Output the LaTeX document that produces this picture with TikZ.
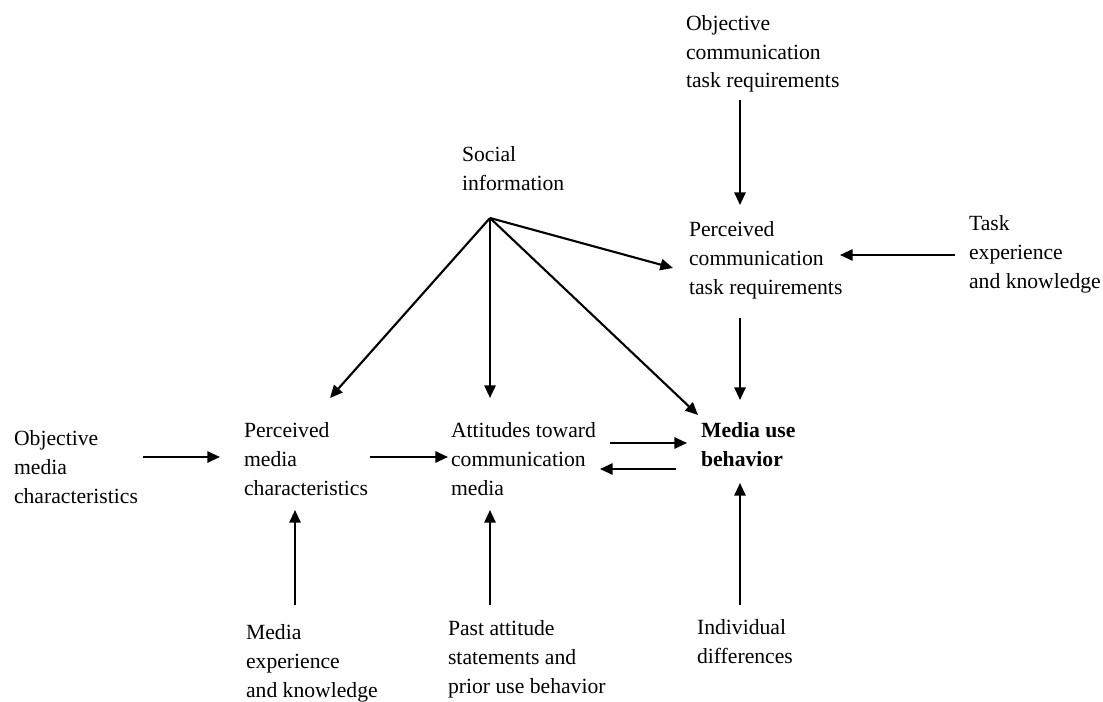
\documentclass[tikz,border=0pt]{standalone}
\usepackage{fontspec}
\setmainfont{Liberation Serif}
\usetikzlibrary{arrows.meta}
\tikzset{lbl/.style={anchor=base west,align=left,inner sep=0pt,font=\fontsize{15.4}{20.6}\selectfont}}

\begin{document}
\begin{tikzpicture}[->,line width=1.5pt,>={Triangle[length=9pt,width=8pt]},x=0.025cm,y=-0.025cm]
 		\useasboundingbox (0,0) rectangle (1103,702);
 		% text blocks (placed at the baseline of their last line)
 		\node[lbl] (octr) at (685,88){Objective\\communication\\task requirements};
 		\node[lbl] (soc) at (461,190){Social\\information};
 		\node[lbl] (pctr) at (688,294){Perceived\\communication\\task requirements};
 		\node[lbl] (tek) at (968,288){Task\\experience\\and knowledge};
 		\node[lbl] (omc) at (13,503){Objective\\media\\characteristics};
 		\node[lbl] (pmc) at (243,495){Perceived\\media\\characteristics};
 		\node[lbl] (atc) at (450,495){Attitudes toward\\communication\\media};
 		\node[lbl,font=\fontsize{15.4}{20.6}\selectfont\bfseries] (mub) at (700,466){Media use\\behavior};
 		\node[lbl] (mek) at (245,697){Media\\experience\\and knowledge};
 		\node[lbl] (pas) at (447,693){Past attitude\\statements and\\prior use behavior};
 		\node[lbl] (ind) at (696,663){Individual\\differences};
 		% arrow ends
 		\coordinate (octr-out) at (740,100);
 		\coordinate (pctr-in) at (740,205);
 		\coordinate (tek-out) at (955,255);
 		\coordinate (pctr-east) at (840,255);
 		\coordinate (pctr-out) at (740,318);
 		\coordinate (mub-top) at (740,400);
 		\coordinate (soc-out) at (490,218);
 		\coordinate (pctr-west) at (673,268);
 		\coordinate (pmc-top) at (330,398);
 		\coordinate (atc-top) at (490,398);
 		\coordinate (mub-nw) at (698,415);
 		\coordinate (omc-out) at (143,457);
 		\coordinate (pmc-in) at (220,457);
 		\coordinate (pmc-out) at (370,457);
 		\coordinate (atc-in) at (448,457);
 		\coordinate (atc-out) at (610,443);
 		\coordinate (mub-in) at (687,443);
 		\coordinate (mub-out) at (676,469);
 		\coordinate (atc-back) at (600,469);
 		\coordinate (mek-out) at (295,605);
 		\coordinate (pmc-bot) at (295,510);
 		\coordinate (pas-out) at (490,605);
 		\coordinate (atc-bot) at (490,510);
 		\coordinate (ind-out) at (740,605);
 		\coordinate (mub-bot) at (740,483);
 		% arrows
 		\draw (octr-out) -- (pctr-in);
 		\draw (tek-out) -- (pctr-east);
 		\draw (pctr-out) -- (mub-top);
 		\draw (soc-out) -- (pctr-west);
 		\draw (soc-out) -- (pmc-top);
 		\draw (soc-out) -- (atc-top);
 		\draw (soc-out) -- (mub-nw);
 		\draw (omc-out) -- (pmc-in);
 		\draw (pmc-out) -- (atc-in);
 		\draw (atc-out) -- (mub-in);
 		\draw (mub-out) -- (atc-back);
 		\draw (mek-out) -- (pmc-bot);
 		\draw (pas-out) -- (atc-bot);
 		\draw (ind-out) -- (mub-bot);
 	\end{tikzpicture}
\end{document}
